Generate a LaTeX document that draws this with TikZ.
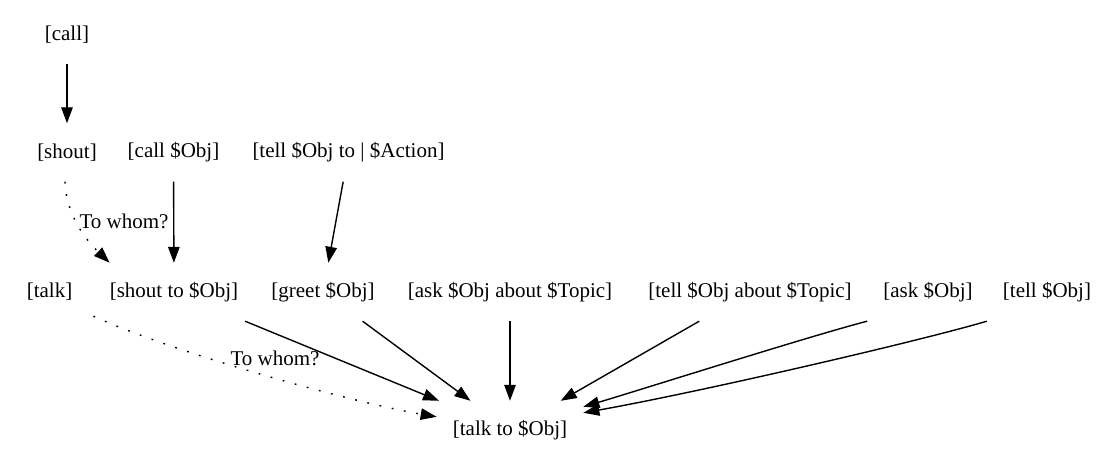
\documentclass[tikz,border=0pt]{standalone}
\usepackage{fontspec}
\setmainfont{Liberation Serif}
\usepackage{tikz}
\usetikzlibrary{arrows.meta}

\begin{document}
\begin{tikzpicture}[x=1pt, y=-1pt,
        lbl/.style={font=\fontsize{21}{25}\selectfont, inner xsep=16pt, inner ysep=0pt, minimum height=58pt},
        note/.style={font=\fontsize{21}{25}\selectfont, inner sep=0pt},
        edge/.style={line width=1.4pt, -{Triangle[length=16pt,width=11.5pt]}},
        maybe/.style={edge, dash pattern=on 1.8pt off 10.7pt}]
        % Canvas
        \useasboundingbox (0,0) rectangle (1113,465);

        % Top row
        \node[lbl] (call) at (67,35) {[call]};

        % Second row
        \node[lbl] (shout) at (67,152.5) {[shout]};
        \node[lbl] (callobj) at (173.5,152.5) {[call \$Obj]};
        \node[lbl] (telltoact) at (348.5,152.5) {[tell \$Obj to | \$Action]};

        % Third row
        \node[lbl] (talk) at (49.5,292) {[talk]};
        \node[lbl] (shoutto) at (174,292) {[shout to \$Obj]};
        \node[lbl] (greet) at (323,292) {[greet \$Obj]};
        \node[lbl] (asktopic) at (510,292) {[ask \$Obj about \$Topic]};
        \node[lbl] (telltopic) at (750,292) {[tell \$Obj about \$Topic]};
        \node[lbl] (askobj) at (928,292) {[ask \$Obj]};
        \node[lbl] (tellobj) at (1047,292) {[tell \$Obj]};

        % Bottom
        \node[lbl] (talkto) at (510,430) {[talk to \$Obj]};

        % Edges
        \draw[edge] (call) -- (shout);
        \draw[maybe] ([xshift=-2pt]shout.south) .. controls (66,215) and (86,240) .. ([xshift=16pt]shoutto.north west);
        \node[note] (whom1) at (124,221) {To whom?};
        \draw[edge] (callobj) -- (shoutto);
        \draw[edge] (telltoact) -- (greet);

        \draw[maybe] ([xshift=5pt,yshift=5pt]talk.south east) .. controls (172,352) and (350,402) .. ([yshift=-16pt]talkto.north west);
        \node[note] (whom2) at (275,358) {To whom?};
        \foreach \n in {shoutto,greet,asktopic,telltopic}
            \draw[edge] (\n) -- (talkto);
        \draw[edge] (askobj.south west) .. controls (810,336) and (640,390) .. ([yshift=-6pt]talkto.north east);
        \draw[edge] (tellobj.south west) .. controls (920,341) and (700,392) .. ([yshift=-12pt]talkto.north east);
\end{tikzpicture}
\end{document}
